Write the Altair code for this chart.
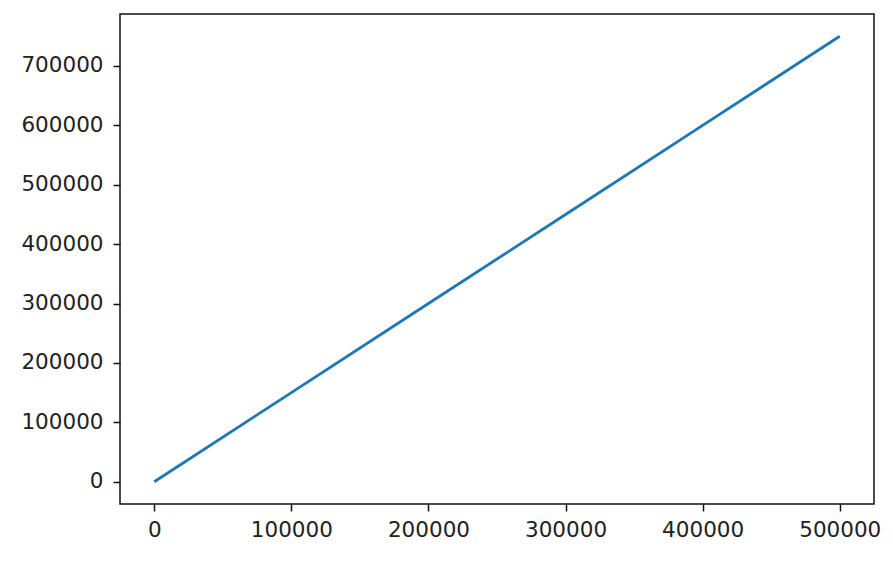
import altair as alt
import pandas as pd

x_vals = [0, 100000, 200000, 300000, 400000, 500000]
y_vals = [0, 150000, 300000, 450000, 600000, 750000]
x_ticks = [0, 100000, 200000, 300000, 400000, 500000]
y_ticks = [0, 100000, 200000, 300000, 400000, 500000, 600000, 700000]

df = pd.DataFrame({"x": x_vals, "y": y_vals})

axis_common = dict(
    domain=False,
    grid=False,
    tickColor="#111",
    tickWidth=1.5,
    tickSize=7,
    labelColor="#222",
    labelFont="DejaVu Sans",
    labelFontSize=21.5,
    format="d",
    title=None,
)

chart = (
    alt.Chart(df)
    .mark_line(color="#1f77b4", strokeWidth=2.8)
    .encode(
        x=alt.X(
            "x:Q",
            scale=alt.Scale(domain=[-25000, 525000], nice=False, zero=False),
            axis=alt.Axis(values=x_ticks, labelPadding=8, **axis_common),
        ),
        y=alt.Y(
            "y:Q",
            scale=alt.Scale(domain=[-37500, 787500], nice=False, zero=False),
            axis=alt.Axis(values=y_ticks, labelPadding=10, **axis_common),
        ),
    )
    .properties(
        width=754,
        height=490,
        background="white",
        autosize=alt.AutoSizeParams(type="none"),
        padding={"left": 112, "top": 6, "right": 11, "bottom": 52},
    )
    .configure_view(stroke="#111", strokeWidth=1.5)
)

chart.save("out.html", embed_options={"renderer": "svg", "actions": False})
